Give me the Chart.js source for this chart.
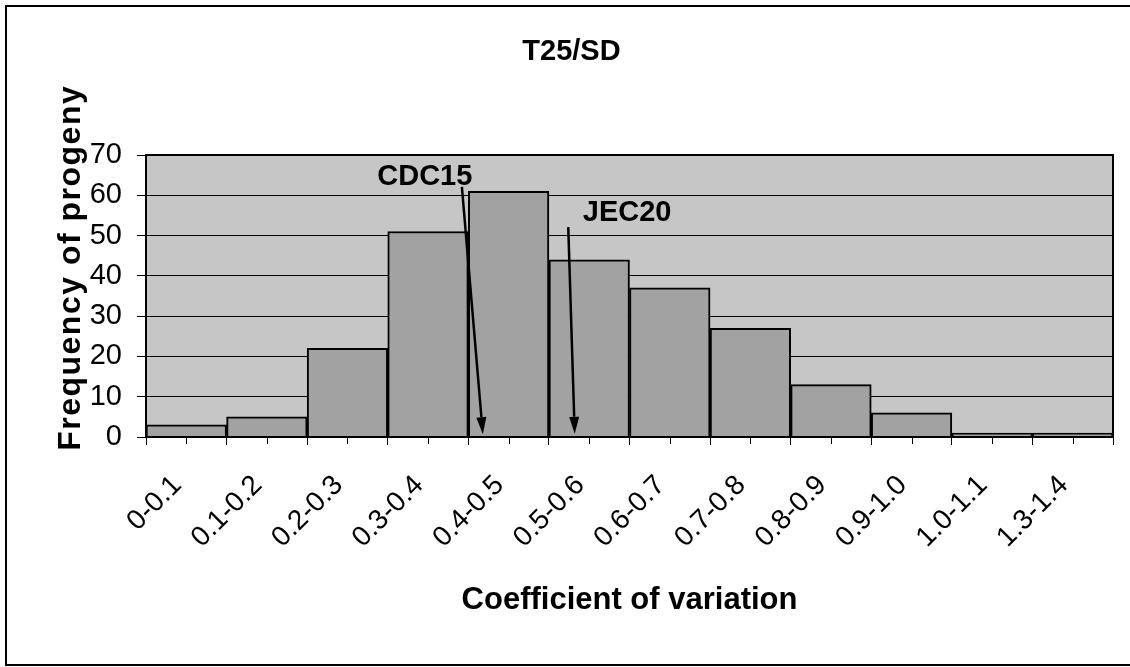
<!DOCTYPE html>
<html>
<head>
<meta charset="utf-8">
<title>T25/SD</title>
<script src="https://cdn.jsdelivr.net/npm/chart.js@4.4.1/dist/chart.umd.min.js"></script>
<style>
  html, body { margin: 0; padding: 0; background: #fff; }
  #wrap { width: 1130px; height: 667px; }
</style>
</head>
<body>
<div id="wrap"><canvas id="chart" width="1130" height="667"></canvas></div>
<script>
// data
const categories = ['0-0.1', '0.1-0.2', '0.2-0.3', '0.3-0.4', '0.4-0.5', '0.5-0.6',
                    '0.6-0.7', '0.7-0.8', '0.8-0.9', '0.9-1.0', '1.0-1.1', '1.3-1.4'];
const frequency = [3, 5, 22, 51, 61, 44, 37, 27, 13, 6, 1, 1];
const yMin = 0;
const yMax = 70;
const yStep = 10;

// marker arrows, in data units (category index, frequency)
const cdc15 = { label: 'CDC15', text: [2.96, 64.6], from: [3.42, 62.1], to: [3.68, 0.7] };
const jec20 = { label: 'JEC20', text: [5.47, 55.7], from: [4.74, 52.1], to: [4.82, 0.8] };

const yTitle = 'Frequency of progeny';
const FONT = '"Liberation Sans", Arial, sans-serif';

document.addEventListener('DOMContentLoaded', function() {
    const ctx = document.getElementById('chart').getContext('2d');

    // grey plot area, its border, minor ticks, outer frame, y title and the arrows
    const paperPlugin = {
        id: 'paper',
        beforeDraw(chart) {
            const { ctx, chartArea: a } = chart;
            ctx.save();
            ctx.fillStyle = '#c6c6c6';
            ctx.fillRect(a.left, a.top, a.right - a.left, a.bottom - a.top);
            ctx.restore();
        },
        afterDraw(chart) {
            const { ctx, chartArea: a, scales } = chart;
            ctx.save();
            ctx.strokeStyle = '#000';
            ctx.lineWidth = 2;
            ctx.strokeRect(a.left, a.top, a.right - a.left, a.bottom - a.top);

            // small ticks under each category centre
            ctx.lineWidth = 1;
            ctx.beginPath();
            categories.forEach(function(c, i) {
                const px = Math.round(scales.x.getPixelForValue(i)) + 0.5;
                ctx.moveTo(px, a.bottom);
                ctx.lineTo(px, a.bottom + 7);
            });
            ctx.stroke();

            // outer frame (right side runs off the page)
            ctx.lineWidth = 2;
            ctx.strokeRect(6, 6, chart.width + 10, chart.height - 8);

            // y axis title, letter spaced, sitting a bit above the axis middle
            ctx.save();
            ctx.translate(80, a.top + (a.bottom - a.top) * 0.4);
            ctx.rotate(-Math.PI / 2);
            ctx.font = 'bold 32px ' + FONT;
            ctx.letterSpacing = '1.5px';
            ctx.fillStyle = '#000';
            ctx.textAlign = 'center';
            ctx.textBaseline = 'alphabetic';
            ctx.fillText(yTitle, 0, 0);
            ctx.restore();

            [cdc15, jec20].forEach(function(m) {
                drawMarker(ctx, scales, m);
            });
            ctx.restore();
        }
    };

    function drawMarker(ctx, scales, m) {
        const x0 = scales.x.getPixelForValue(m.from[0]);
        const y0 = scales.y.getPixelForValue(m.from[1]);
        const x1 = scales.x.getPixelForValue(m.to[0]);
        const y1 = scales.y.getPixelForValue(m.to[1]);
        const ang = Math.atan2(y1 - y0, x1 - x0);
        const len = 17, half = 5;

        ctx.strokeStyle = '#000';
        ctx.fillStyle = '#000';
        ctx.lineWidth = 2.5;
        ctx.beginPath();
        ctx.moveTo(x0, y0);
        ctx.lineTo(x1 - Math.cos(ang) * len, y1 - Math.sin(ang) * len);
        ctx.stroke();

        ctx.beginPath();
        ctx.moveTo(x1, y1);
        ctx.lineTo(x1 - Math.cos(ang) * len + Math.sin(ang) * half,
                   y1 - Math.sin(ang) * len - Math.cos(ang) * half);
        ctx.lineTo(x1 - Math.cos(ang) * len - Math.sin(ang) * half,
                   y1 - Math.sin(ang) * len + Math.cos(ang) * half);
        ctx.closePath();
        ctx.fill();

        ctx.font = 'bold 29px ' + FONT;
        ctx.textAlign = 'center';
        ctx.textBaseline = 'middle';
        ctx.fillText(m.label, scales.x.getPixelForValue(m.text[0]), scales.y.getPixelForValue(m.text[1]));
    }

    new Chart(ctx, {
        type: 'bar',
        data: {
            labels: categories,
            datasets: [{
                label: 'Frequency of progeny',
                data: frequency,
                backgroundColor: '#a2a2a2',
                borderColor: '#000',
                borderWidth: 2,
                borderSkipped: 'bottom',
                categoryPercentage: 1.0,
                barPercentage: 1.0
            }]
        },
        options: {
            responsive: false,
            animation: false,
            layout: { padding: { left: 30, right: 17, top: 0, bottom: 0 } },
            plugins: {
                legend: { display: false },
                tooltip: { enabled: false },
                title: {
                    display: true,
                    text: 'T25/SD',
                    color: '#000',
                    font: { family: FONT, size: 29, weight: 'bold' },
                    padding: { top: 35, bottom: 85.2 }
                }
            },
            scales: {
                x: {
                    offset: true,
                    grid: {
                        display: true,
                        offset: true,
                        drawOnChartArea: false,
                        drawTicks: true,
                        tickLength: 8,
                        color: '#000'
                    },
                    border: { display: true, color: '#000', width: 2 },
                    ticks: {
                        color: '#000',
                        font: { family: FONT, size: 28 },
                        minRotation: 45,
                        maxRotation: 45,
                        autoSkip: false,
                        padding: 24,
                        labelOffset: -9
                    },
                    title: {
                        display: true,
                        text: 'Coefficient of variation',
                        color: '#000',
                        font: { family: FONT, size: 31, weight: 'bold' },
                        padding: { top: 0, bottom: 48 }
                    },
                    afterFit: function(scale) { scale.height = 230; }
                },
                y: {
                    min: yMin,
                    max: yMax,
                    grid: {
                        color: '#000',
                        lineWidth: 1,
                        tickLength: 9
                    },
                    border: { display: true, color: '#000', width: 2 },
                    ticks: {
                        stepSize: yStep,
                        autoSkip: false,
                        color: '#000',
                        font: { family: FONT, size: 29 },
                        padding: 15
                    },
                    title: { display: false },
                    afterFit: function(scale) { scale.width = 116; }
                }
            }
        },
        plugins: [paperPlugin]
    });
});
</script>
</body>
</html>
